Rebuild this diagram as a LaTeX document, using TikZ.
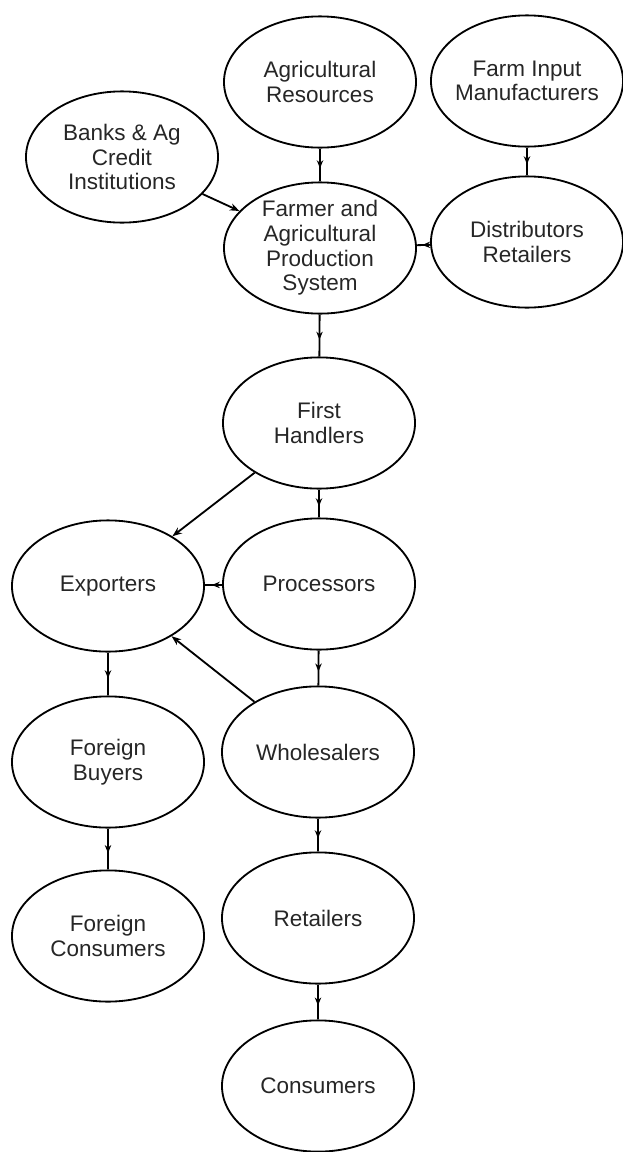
\documentclass[tikz,border=0pt]{standalone}
\usepackage{fontspec}
\setmainfont{Liberation Sans}
\usepackage{tikz}
\usetikzlibrary{shapes.geometric,arrows.meta,decorations.markings}

\begin{document}
\begin{tikzpicture}[x=0.025cm, y=-0.025cm, >=Stealth, line width=1.3pt,
    font=\fontsize{16}{17.5}\selectfont,
    oval/.style={draw, ellipse, align=center, minimum width=4.8cm, minimum height=3.28cm,
                 inner xsep=-10mm, inner ysep=-3mm, text=black!85},
    midarr/.style={postaction={decorate}, decoration={markings,
                 mark=at position 0.6 with {\arrow{Stealth[length=2mm, width=1.6mm]}}}},
    endarr/.style={-{Stealth[length=2.4mm, width=1.8mm]}}]
    \useasboundingbox (0,0) rectangle (623,1152);
    % top row
    \node[oval] (agres) at (320,82)  {Agricultural\\Resources};
    \node[oval] (input) at (527,81)  {Farm Input\\Manufacturers};
    \node[oval] (banks) at (122,157) {Banks \& Ag\\Credit\\Institutions};
    \node[oval] (farmer) at (320,248) {Farmer and\\Agricultural\\Production\\System};
    \node[oval] (distr) at (527,242) {Distributors\\Retailers};
    % marketing chain
    \node[oval] (first) at (319,423) {First\\Handlers};
    \node[oval] (export) at (108,586) {Exporters};
    \node[oval] (proc) at (319,584) {Processors};
    \node[oval] (fbuy) at (108,762) {Foreign\\Buyers};
    \node[oval] (whole) at (318,752) {Wholesalers};
    \node[oval] (fcons) at (108,936) {Foreign\\Consumers};
    \node[oval] (retail) at (318,918) {Retailers};
    \node[oval] (cons) at (318,1086) {Consumers};
    % connectors
    \draw[midarr] (agres) -- (farmer);
    \draw[midarr] (input) -- (distr);
    \draw[endarr] (banks) -- (farmer);
    \draw[midarr] (distr) -- (farmer);
    \draw[midarr] (farmer) -- (first);
    \draw[endarr] (first) -- (export);
    \draw[midarr] (first) -- (proc);
    \draw[midarr] (proc) -- (export);
    \draw[midarr] (proc) -- (whole);
    \draw[endarr] (whole) -- (export);
    \draw[midarr] (export) -- (fbuy);
    \draw[midarr] (fbuy) -- (fcons);
    \draw[midarr] (whole) -- (retail);
    \draw[midarr] (retail) -- (cons);
\end{tikzpicture}
\end{document}
